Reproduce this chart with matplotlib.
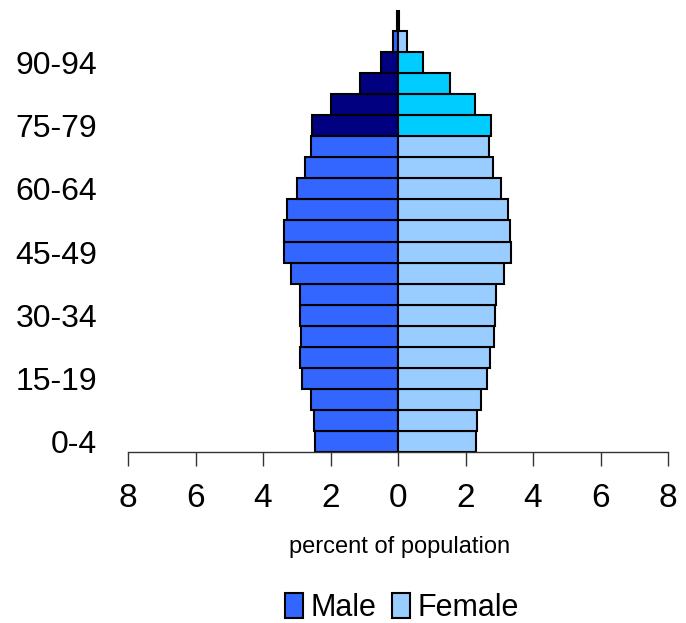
import matplotlib.pyplot as plt
import numpy as np

plt.rcParams['font.family'] = ['Liberation Sans', 'DejaVu Sans']

# age groups, youngest first
age_groups = ['0-4', '5-9', '10-14', '15-19', '20-24', '25-29', '30-34',
              '35-39', '40-44', '45-49', '50-54', '55-59', '60-64',
              '65-69', '70-74', '75-79', '80-84', '85-89', '90-94',
              '95-99', '100+']

# percent of total population
male = [2.46, 2.50, 2.57, 2.84, 2.91, 2.88, 2.91, 2.91, 3.18, 3.37, 3.37,
        3.29, 2.98, 2.76, 2.58, 2.54, 1.98, 1.14, 0.50, 0.15, 0.03]
female = [2.32, 2.35, 2.47, 2.65, 2.73, 2.84, 2.88, 2.91, 3.14, 3.34, 3.31,
          3.26, 3.04, 2.81, 2.70, 2.76, 2.29, 1.55, 0.74, 0.28, 0.03]

# groups 75-79 .. 90-94 are shaded darker
old_groups = ['75-79', '80-84', '85-89', '90-94']

male_colors = ['#000080' if g in old_groups else '#3366FF' for g in age_groups]
female_colors = ['#00CCFF' if g in old_groups else '#99CCFF' for g in age_groups]

y = np.arange(len(age_groups))

fig = plt.figure(figsize=(6.86, 6.23), dpi=100)
ax = fig.add_axes([0.1866, 0.2745, 0.7872, 0.7095])

ax.barh(y, -np.array(male), height=1.0, color=male_colors,
        edgecolor='black', linewidth=1.5)
ax.barh(y, female, height=1.0, color=female_colors,
        edgecolor='black', linewidth=1.5)

ax.set_xlim(-8, 8)
ax.set_ylim(-0.5, len(age_groups) - 0.5)

ticks = np.arange(-8, 9, 2)
ax.set_xticks(ticks)
ax.set_xticklabels([str(abs(t)) for t in ticks], fontsize=24)
ax.tick_params(axis='x', direction='out', length=10, width=1,
               color='#333333', pad=12)

ax.set_yticks(y[::3])
ax.set_yticklabels(age_groups[::3], fontsize=23)
ax.tick_params(axis='y', length=0, pad=22)

for side in ['top', 'right', 'left']:
    ax.spines[side].set_visible(False)
ax.spines['bottom'].set_color('#333333')
ax.spines['bottom'].set_linewidth(1)

fig.text(400 / 686, 1 - 547 / 623, 'percent of population',
         ha='center', va='center', fontsize=17)

handles = [plt.Rectangle((0, 0), 1, 1, facecolor='#3366FF', edgecolor='black', linewidth=1.5),
           plt.Rectangle((0, 0), 1, 1, facecolor='#99CCFF', edgecolor='black', linewidth=1.5)]
fig.legend(handles, ['Male', 'Female'], loc='center',
           bbox_to_anchor=(402 / 686, 1 - 608 / 623), ncol=2, frameon=False,
           fontsize=22, handlelength=0.6, handleheight=0.9,
           handletextpad=0.25, columnspacing=0.5)

fig.savefig('out.png', dpi=100)
